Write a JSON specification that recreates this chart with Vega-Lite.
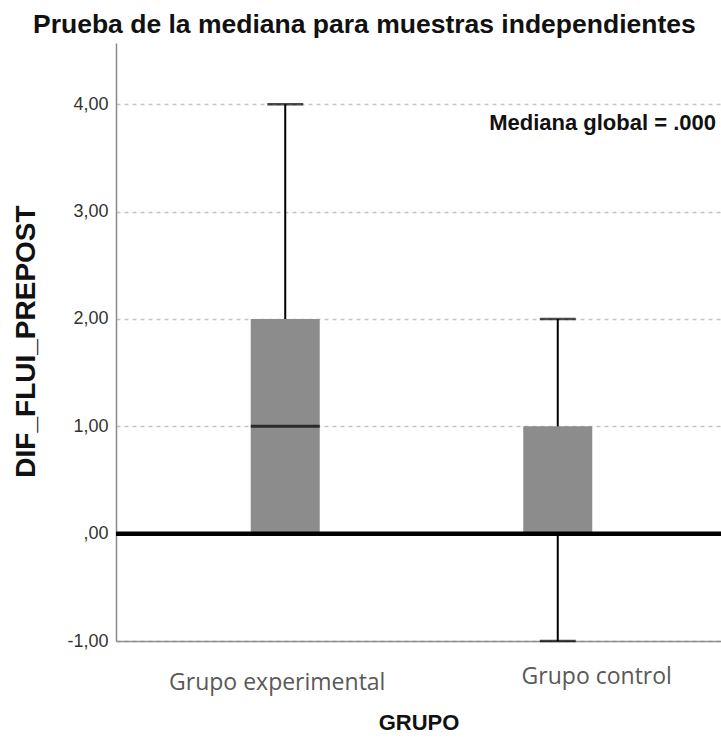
{
  "$schema": "https://vega.github.io/schema/vega-lite/v6.json",
  "autosize": {"type": "none"},
  "width": 605,
  "height": 598,
  "padding": {"left": 116, "top": 43, "right": 0, "bottom": 99},
  "background": "white",
  "title": {
    "text": "Prueba de la mediana para muestras independientes",
    "anchor": "start",
    "frame": "group",
    "dx": -83,
    "offset": 5,
    "font": "Liberation Sans",
    "fontSize": 26.5,
    "fontWeight": "bold",
    "color": "#111111"
  },
  "config": {
    "view": {"stroke": null},
    "axis": {"labelFont": "Liberation Sans", "titleFont": "Liberation Sans"}
  },
  "data": {
    "values": [
      {"grupo": "Grupo experimental", "min": 0, "q1": 0, "med": 1, "q3": 2, "max": 4},
      {"grupo": "Grupo control", "min": -1, "q1": 0, "med": 0, "q3": 1, "max": 2}
    ]
  },
  "encoding": {
    "x": {
      "field": "grupo",
      "type": "nominal",
      "sort": ["Grupo experimental", "Grupo control"],
      "scale": {"paddingInner": 0, "paddingOuter": 0.11, "align": 0.55},
      "axis": {
        "title": "GRUPO",
        "titleFontSize": 22,
        "titleFontWeight": "bold",
        "titleColor": "#111111",
        "titlePadding": 18,
        "labelFont": "Open Sans",
        "labelFontSize": 23,
        "labelColor": "#595959",
        "labelAngle": 0,
        "labelLimit": 0,
        "labelOverlap": false,
        "labelPadding": {"condition": {"test": "datum.value === 'Grupo control'", "value": 24}, "value": 30},
        "labelOffset": {"condition": {"test": "datum.value === 'Grupo control'", "value": 39}, "value": -8},
        "ticks": false,
        "domainColor": "#8a8a8a",
        "domainWidth": 1.5,
        "grid": false
      }
    }
  },
  "layer": [
    {
      "mark": {"type": "rule", "color": "#000000", "strokeWidth": 2},
      "encoding": {
        "y": {
          "field": "min",
          "type": "quantitative",
          "scale": {"domain": [-1, 4.57], "nice": false, "zero": false},
          "axis": {
            "title": "DIF_FLUI_PREPOST",
            "titleFontSize": 28,
            "titleFontWeight": "bold",
            "titleColor": "#111111",
            "titleAngle": -90,
            "titleAlign": "center",
            "titleBaseline": "middle",
            "titleX": -90,
            "titleY": 298,
            "values": [-1, 0, 1, 2, 3, 4],
            "labelExpr": "datum.value == 0 ? ',00' : (datum.value < 0 ? '-' : '') + replace(format(abs(datum.value), '.2f'), '.', ',')",
            "labelFontSize": 18,
            "labelColor": "#333333",
            "labelPadding": 8,
            "ticks": false,
            "domainColor": "#8a8a8a",
            "domainWidth": 1.5,
            "grid": true,
            "gridColor": "#c4c4c4",
            "gridDash": [4, 4],
            "gridWidth": 1.5
          }
        },
        "y2": {"field": "max"}
      }
    },
    {
      "mark": {"type": "tick", "color": "#000000", "thickness": 2.5, "size": 36},
      "encoding": {"y": {"field": "max", "type": "quantitative"}}
    },
    {
      "mark": {"type": "tick", "color": "#000000", "thickness": 2.5, "size": 36},
      "encoding": {"y": {"field": "min", "type": "quantitative"}}
    },
    {
      "mark": {"type": "bar", "color": "#8c8c8c", "size": 69},
      "encoding": {
        "y": {"field": "q1", "type": "quantitative"},
        "y2": {"field": "q3"}
      }
    },
    {
      "mark": {"type": "tick", "color": "#000000", "thickness": 3, "size": 69},
      "encoding": {"y": {"field": "med", "type": "quantitative"}}
    },
    {
      "data": {"values": [{"mediana_global": 0, "etiqueta": "Mediana global = .000"}]},
      "mark": {"type": "rule", "color": "#000000", "strokeWidth": 4.5},
      "encoding": {
        "x": null,
        "y": {"field": "mediana_global", "type": "quantitative"}
      }
    },
    {
      "data": {"values": [{"mediana_global": 0, "etiqueta": "Mediana global = .000", "posicion": 3.76}]},
      "mark": {
        "type": "text",
        "align": "right",
        "baseline": "alphabetic",
        "dx": -5,
        "font": "Liberation Sans",
        "fontSize": 22,
        "fontWeight": "bold",
        "color": "#111111"
      },
      "encoding": {
        "x": {"value": "width"},
        "y": {"field": "posicion", "type": "quantitative"},
        "text": {"field": "etiqueta"}
      }
    }
  ]
}
